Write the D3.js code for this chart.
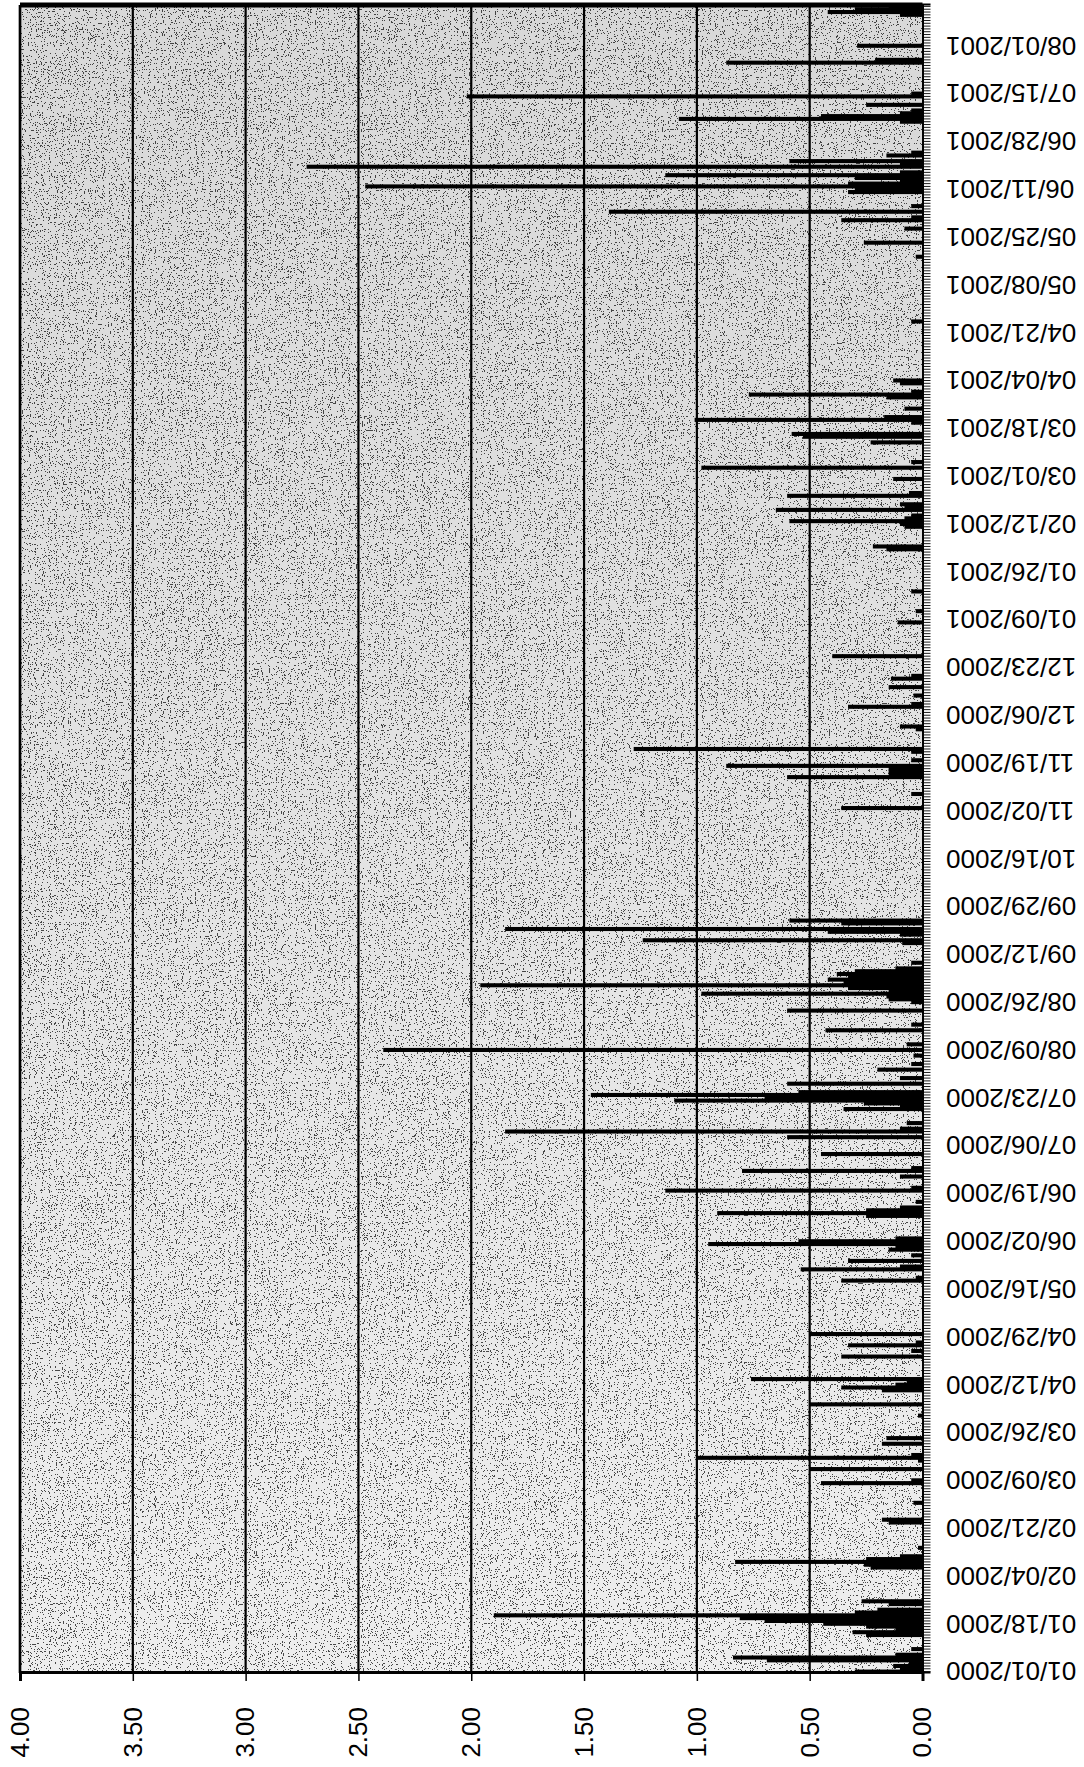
<!DOCTYPE html>
<html>
<head>
<meta charset="utf-8">
<script src="https://cdn.jsdelivr.net/npm/d3@7"></script>
<style>
  html, body { margin: 0; padding: 0; background: #fff; }
  svg { display: block; }
  text { font-family: "Liberation Sans", Arial, sans-serif; fill: #000; }
</style>
</head>
<body>
<svg id="chart" width="1084" height="1767"></svg>
<script>
// Daily readings, 01/01/2000 – 08/15/2001 (days not listed are zero)
const firstDay = "01/01/2000";
const lastDay = "08/15/2001";

const barDates = [
  "01/01/2000","01/02/2000","01/03/2000","01/04/2000","01/05/2000","01/06/2000","01/07/2000","01/09/2000",
  "01/14/2000","01/15/2000","01/16/2000","01/17/2000","01/18/2000","01/19/2000","01/20/2000","01/21/2000",
  "01/22/2000","01/23/2000","01/25/2000","01/26/2000",
  "02/07/2000","02/08/2000","02/09/2000","02/10/2000","02/11/2000","02/14/2000","02/23/2000","02/24/2000",
  "03/01/2000","03/08/2000","03/09/2000","03/13/2000","03/16/2000","03/17/2000","03/18/2000","03/22/2000","03/24/2000",
  "04/01/2000","04/05/2000","04/10/2000","04/11/2000","04/12/2000","04/13/2000","04/14/2000","04/22/2000",
  "04/24/2000","04/26/2000","04/27/2000","04/30/2000",
  "05/19/2000","05/20/2000","05/23/2000","05/24/2000","05/26/2000","05/28/2000","05/30/2000","05/31/2000",
  "06/01/2000","06/02/2000","06/03/2000","06/11/2000","06/12/2000","06/13/2000","06/14/2000","06/16/2000",
  "06/20/2000","06/21/2000","06/25/2000","06/27/2000","06/28/2000",
  "07/03/2000","07/09/2000","07/11/2000","07/12/2000","07/14/2000","07/19/2000","07/20/2000","07/21/2000",
  "07/22/2000","07/23/2000","07/24/2000","07/25/2000","07/28/2000","07/30/2000",
  "08/02/2000","08/04/2000","08/07/2000","08/09/2000","08/11/2000","08/16/2000","08/18/2000","08/23/2000",
  "08/26/2000","08/27/2000","08/28/2000","08/29/2000","08/30/2000","08/31/2000",
  "09/01/2000","09/02/2000","09/03/2000","09/04/2000","09/05/2000","09/06/2000","09/07/2000","09/09/2000",
  "09/16/2000","09/17/2000","09/19/2000","09/20/2000","09/21/2000","09/23/2000","09/24/2000",
  "11/03/2000","11/08/2000","11/14/2000","11/15/2000","11/16/2000","11/17/2000","11/18/2000","11/20/2000",
  "11/23/2000","11/24/2000",
  "12/01/2000","12/02/2000","12/09/2000","12/10/2000","12/13/2000","12/16/2000","12/19/2000","12/20/2000","12/27/2000",
  "01/08/2001","01/12/2001","01/19/2001",
  "02/03/2001","02/04/2001","02/11/2001","02/12/2001","02/13/2001","02/14/2001","02/15/2001","02/17/2001",
  "02/18/2001","02/19/2001","02/22/2001","02/23/2001","02/28/2001",
  "03/04/2001","03/06/2001","03/13/2001","03/15/2001","03/16/2001","03/20/2001","03/21/2001","03/22/2001",
  "03/25/2001","03/29/2001","03/30/2001","03/31/2001",
  "04/03/2001","04/04/2001","04/25/2001",
  "05/18/2001","05/23/2001","05/28/2001","05/31/2001",
  "06/01/2001","06/03/2001","06/05/2001","06/10/2001","06/11/2001","06/12/2001","06/13/2001","06/14/2001",
  "06/15/2001","06/16/2001","06/17/2001","06/19/2001","06/20/2001","06/21/2001","06/23/2001","06/24/2001",
  "07/05/2001","07/06/2001","07/07/2001","07/08/2001","07/09/2001","07/11/2001","07/14/2001","07/15/2001",
  "07/26/2001","07/27/2001",
  "08/01/2001","08/12/2001","08/13/2001","08/14/2001","08/15/2001"
];

const barValues = [
  0.30,0.10,0.13,0.06,0.69,0.84,0.12,0.05,
  0.25,0.31,0.12,0.25,0.44,0.70,0.81,1.90,
  0.30,0.20,0.15,0.27,
  0.23,0.26,0.83,0.25,0.10,0.02,0.15,0.18,
  0.04,0.45,0.05,0.50,0.02,1.00,0.05,0.18,0.16,
  0.02,0.50,0.18,0.36,0.12,0.07,0.76,0.36,
  0.05,0.33,0.03,0.50,
  0.36,0.03,0.54,0.10,0.33,0.05,0.15,0.12,
  0.95,0.55,0.12,0.25,0.91,0.25,0.10,0.03,
  1.14,0.05,0.10,0.80,0.05,
  0.45,0.60,1.85,0.10,0.07,0.35,0.10,0.26,
  1.10,0.70,1.47,0.55,0.60,0.10,
  0.20,0.05,0.04,2.39,0.07,0.43,0.05,0.60,
  0.05,0.15,0.16,0.98,0.15,0.33,
  1.96,0.35,0.42,0.33,0.38,0.30,0.12,0.05,
  0.09,1.24,0.10,0.42,1.85,0.36,0.59,
  0.36,0.05,0.60,0.15,0.15,0.15,0.87,0.05,
  0.05,1.28,
  0.03,0.10,0.33,0.05,0.04,0.15,0.14,0.05,0.40,
  0.11,0.03,0.05,
  0.16,0.22,0.08,0.10,0.59,0.08,0.05,0.65,
  0.08,0.10,0.60,0.06,0.13,
  0.98,0.05,0.23,0.53,0.58,0.05,1.01,0.17,
  0.08,0.16,0.77,0.05,
  0.10,0.13,0.05,
  0.03,0.26,0.08,0.36,
  0.05,1.39,0.05,0.33,0.30,2.47,0.33,0.10,
  0.30,1.14,0.10,2.73,0.10,0.59,0.16,0.05,
  0.10,1.08,0.45,0.10,0.05,0.25,2.02,0.05,
  0.87,0.21,
  0.29,0.10,0.42,0.30,0.15
];

// Category-axis labels, every 17 days
const dateTicks = [
  "01/01/2000","01/18/2000","02/04/2000","02/21/2000","03/09/2000","03/26/2000","04/12/2000",
  "04/29/2000","05/16/2000","06/02/2000","06/19/2000","07/06/2000","07/23/2000","08/09/2000",
  "08/26/2000","09/12/2000","09/29/2000","10/16/2000","11/02/2000","11/19/2000","12/06/2000",
  "12/23/2000","01/09/2001","01/26/2001","02/12/2001","03/01/2001","03/18/2001","04/04/2001",
  "04/21/2001","05/08/2001","05/25/2001","06/11/2001","06/28/2001","07/15/2001","08/01/2001"
];

// Value axis
const valueTicks = [0, 0.5, 1, 1.5, 2, 2.5, 3, 3.5, 4];

const parse = d3.timeParse("%m/%d/%Y");
const fmt = d3.timeFormat("%m/%d/%Y");

const allDays = d3.timeDay.range(parse(firstDay), d3.timeDay.offset(parse(lastDay), 1)).map(fmt);
const bars = barDates.map((d, i) => ({ date: d, value: barValues[i] }));

// The chart is laid out as a column chart, then turned a quarter turn
// counter-clockwise so dates run up the page and values run leftwards.
const plotLeft = 20, plotRight = 922.5, plotTop = 5, plotBottom = 1673;
const W = plotBottom - plotTop;      // length of the date axis
const H = plotRight - plotLeft;      // length of the value axis

const svg = d3.select("#chart");
const defs = svg.append("defs");

const grad = defs.append("linearGradient")
  .attr("id", "plotShade").attr("gradientUnits", "userSpaceOnUse")
  .attr("x1", 0).attr("y1", 0).attr("x2", W).attr("y2", 0);
grad.append("stop").attr("offset", "0%").attr("stop-color", "#eeeeee");
grad.append("stop").attr("offset", "55%").attr("stop-color", "#e2e2e2");
grad.append("stop").attr("offset", "100%").attr("stop-color", "#d8d8d8");

const grain = defs.append("filter").attr("id", "grain")
  .attr("filterUnits", "userSpaceOnUse")
  .attr("x", 0).attr("y", 0).attr("width", W).attr("height", H);
grain.append("feTurbulence").attr("type", "fractalNoise")
  .attr("baseFrequency", 0.85).attr("numOctaves", 2).attr("seed", 11);
grain.append("feColorMatrix").attr("type", "matrix")
  .attr("values", "0 0 0 0 0  0 0 0 0 0  0 0 0 0 0  3 0 0 0 -1.2");
const ct = grain.append("feComponentTransfer");
ct.append("feFuncA").attr("type", "discrete").attr("tableValues", "0 0 0 0.7");

const g = svg.append("g")
  .attr("transform", `translate(${plotLeft},${plotBottom}) rotate(-90)`);

const x = d3.scaleBand().domain(allDays).range([0, W]).padding(0);
const y = d3.scaleLinear().domain([0, 4]).range([H, 0]);

// Plot background
g.append("rect").attr("x", 0).attr("y", 0).attr("width", W).attr("height", H)
  .attr("fill", "url(#plotShade)");
g.append("rect").attr("x", 0).attr("y", 0).attr("width", W).attr("height", H)
  .attr("fill", "#1a1a1a").attr("filter", "url(#grain)");

// Gridlines
g.append("g").selectAll("line").data(valueTicks.filter(v => v > 0)).join("line")
  .attr("x1", 0).attr("x2", W)
  .attr("y1", d => y(d)).attr("y2", d => y(d))
  .attr("stroke", "#000").attr("stroke-width", 2.2);

// Bars
const bw = x.bandwidth() * 1.45;
g.append("g").selectAll("rect").data(bars).join("rect")
  .attr("x", d => x(d.date) + x.bandwidth() / 2 - bw / 2)
  .attr("y", d => y(d.value))
  .attr("width", bw)
  .attr("height", d => H - y(d.value))
  .attr("fill", "#000");

// Plot frame
g.append("line").attr("x1", W).attr("x2", W).attr("y1", 0).attr("y2", H)
  .attr("stroke", "#000").attr("stroke-width", 5);
g.append("line").attr("x1", 0).attr("x2", W).attr("y1", 0).attr("y2", 0)
  .attr("stroke", "#000").attr("stroke-width", 2.5);

// Daily tick marks on the date axis
g.append("g").attr("transform", `translate(0,${H})`)
  .call(d3.axisBottom(x).tickValues(allDays).tickSize(8).tickFormat(""))
  .call(s => s.selectAll(".tick line").attr("stroke", "#000").attr("stroke-width", 0.9))
  .call(s => s.select(".domain").attr("stroke", "#000").attr("stroke-width", 2));

// Date labels
g.append("g").attr("transform", `translate(0,${H})`)
  .call(d3.axisBottom(x).tickValues(dateTicks).tickSize(0))
  .call(s => s.select(".domain").remove())
  .call(s => s.selectAll(".tick text")
    .attr("x", -23.5).attr("y", 0).attr("dy", "0.35em")
    .attr("transform", "rotate(-90)")
    .style("text-anchor", "end")
    .style("font-size", "26px")
    .style("font-family", "'Liberation Sans', Arial, sans-serif"));

// Value axis
g.append("g")
  .call(d3.axisLeft(y).tickValues(valueTicks).tickSize(8).tickPadding(26).tickFormat(d3.format(".2f")))
  .call(s => s.select(".domain").attr("stroke", "#000").attr("stroke-width", 3))
  .call(s => s.selectAll(".tick line").attr("stroke", "#000").attr("stroke-width", 1.5))
  .call(s => s.selectAll(".tick text")
    .style("font-size", "26px")
    .style("font-family", "'Liberation Sans', Arial, sans-serif"));
</script>
</body>
</html>
